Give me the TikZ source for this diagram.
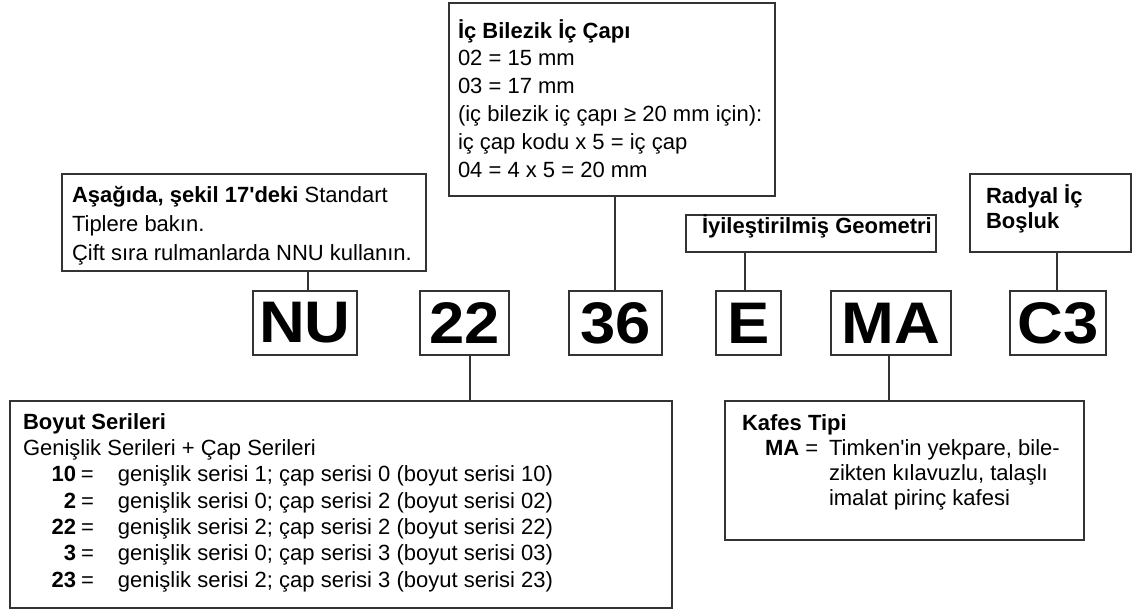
\documentclass[tikz,border=0pt]{standalone}
\usepackage{fontspec}
\usepackage{graphicx}
\newfontfamily\bodyfont{Liberation Sans}
\usetikzlibrary{fit}
\tikzset{
  frame/.style={draw=black!80, line width=1.1pt, inner sep=0pt, outer sep=0pt},
  link/.style={draw=black!80, line width=1.1pt},
  code/.style={font=\bodyfont\bfseries\fontsize{44}{44}\selectfont, inner sep=0pt},
  txt/.style={anchor=base west, inner sep=0pt, outer sep=0pt, font=\bodyfont},
}
% text block: first argument is the line spacing in pt
\newcommand\textlines[2]{{\fontsize{16.5}{#1}\selectfont\begin{tabular}[t]{@{}l@{}}#2\end{tabular}}}
% size-series entry: bold code, equals sign, description
\newcommand\serie[1]{\makebox[39.75pt][r]{\textbf{#1}}\hspace{3.75pt}=\hspace{18pt}}
% slightly widened heavy letters of the designation
\newcommand\wide[1]{\scalebox{1.08}[1]{#1}}
\begin{document}
\begin{tikzpicture}[x=0.75pt,y=-0.75pt]
\useasboundingbox (0,0) rectangle (1133,611);

% code letter boxes
\node[frame, fit={(253,291) (357,355)}] (NU) {};
\node[frame, fit={(420,291) (509,355)}] (S22) {};
\node[frame, fit={(569,291) (662,355)}] (S36) {};
\node[frame, fit={(716,291) (781,355)}] (E) {};
\node[frame, fit={(831,291) (951,355)}] (MA) {};
\node[frame, fit={(1010,291) (1106,355)}] (C3) {};
\node[code] (NUt) at (NU.center) {\wide{NU}};
\node[code] (S22t) at (S22.center) {\wide{22}};
\node[code] (S36t) at (S36.center) {\wide{36}};
\node[code] (Et) at (E.center) {\wide{E}};
\node[code] (MAt) at (MA.center) {\wide{MA}};
\node[code] (C3t) at (C3.center) {\wide{C3}};

% explanation boxes
\node[frame, fit={(62,174) (426,271)}] (A) {};
\node[frame, fit={(449,3) (775,196)}] (T) {};
\node[frame, fit={(686,215) (936,252)}] (G) {};
\node[frame, fit={(970,174) (1131,252)}] (R) {};
\node[frame, fit={(10,401) (672,608)}] (B) {};
\node[frame, fit={(725,401) (1084,540)}] (K) {};

% texts
\node[txt] (At) at (72,202) {\textlines{22.1}{%
  \textbf{Aşağıda, şekil 17'deki} Standart\\
  Tiplere bakın.\\
  Çift sıra rulmanlarda NNU kullanın.}};
\node[txt] (Tt) at (458,38) {\textlines{20.85}{%
  \textbf{İç Bilezik İç Çapı}\\
  02 = 15 mm\\
  03 = 17 mm\\
  (iç bilezik iç çapı ≥ 20 mm için):\\
  iç çap kodu x 5 = iç çap\\
  04 = 4 x 5 = 20 mm}};
\node[txt] (Gt) at (702,233) {\textlines{18}{\textbf{İyileştirilmiş Geometri}}};
\node[txt] (Rt) at (986,203) {\textlines{18.75}{%
  \textbf{Radyal İç}\\
  \textbf{Boşluk}}};
\node[txt] (Bt) at (23,429) {\textlines{19.75}{%
  \textbf{Boyut Serileri}\\
  Genişlik Serileri + Çap Serileri\\
  \serie{10}genişlik serisi 1; çap serisi 0 (boyut serisi 10)\\
  \serie{2}genişlik serisi 0; çap serisi 2 (boyut serisi 02)\\
  \serie{22}genişlik serisi 2; çap serisi 2 (boyut serisi 22)\\
  \serie{3}genişlik serisi 0; çap serisi 3 (boyut serisi 03)\\
  \serie{23}genişlik serisi 2; çap serisi 3 (boyut serisi 23)}};
\node[txt] (Kt) at (742,430) {\textlines{18.75}{%
  \textbf{Kafes Tipi}\\
  \makebox[65.25pt][l]{\hspace{17.25pt}\textbf{MA} =}Timken'in yekpare, bile-\\
  \hspace{65.25pt}zikten kılavuzlu, talaşlı\\
  \hspace{65.25pt}imalat pirinç kafesi}};

% connector columns
\coordinate (xNU) at (308,0);
\coordinate (x36) at (615,0);
\coordinate (xE) at (745,0);
\coordinate (xC3) at (1057,0);
\coordinate (x22) at (470,0);
\coordinate (xMA) at (889,0);

\draw[link] (xNU |- A.south) -- (xNU |- NU.north);
\draw[link] (x36 |- T.south) -- (x36 |- S36.north);
\draw[link] (xE |- G.south) -- (xE |- E.north);
\draw[link] (xC3 |- R.south) -- (xC3 |- C3.north);
\draw[link] (x22 |- S22.south) -- (x22 |- B.north);
\draw[link] (xMA |- MA.south) -- (xMA |- K.north);
\end{tikzpicture}
\end{document}
